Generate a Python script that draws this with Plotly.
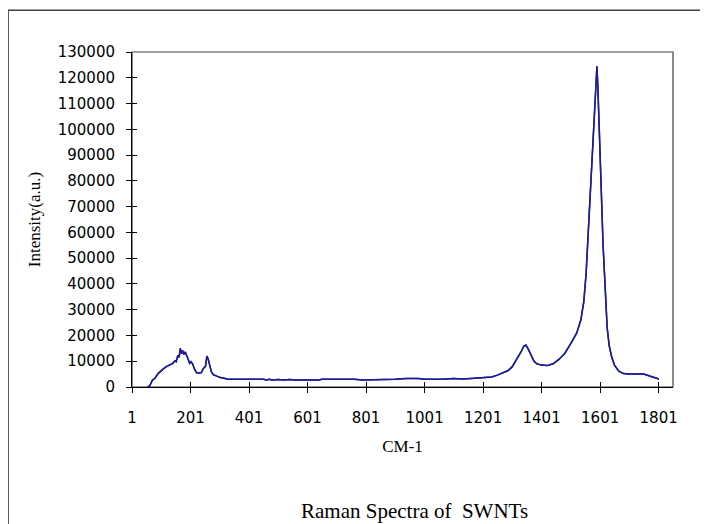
import plotly.graph_objects as go

# Raman shift (cm-1) and intensity (a.u.)
wavenumber = [55, 62, 70, 80, 90, 100, 110, 120, 130, 140, 148, 152, 158, 162, 166, 170, 174, 178,
              183, 188, 193, 198, 203, 208, 215, 222, 230, 238, 245, 252, 257, 261, 266, 272, 279,
              286, 293, 300, 310, 318, 330, 400, 450, 460, 470, 480, 500, 520, 540, 560, 600, 640,
              650, 700, 760, 790, 820, 840, 860, 900, 940, 980, 1000, 1060, 1100, 1130, 1160, 1200,
              1230, 1250, 1270, 1285, 1300, 1315, 1330, 1340, 1347, 1355, 1365, 1375, 1385, 1400,
              1420, 1440, 1460, 1480, 1500, 1521, 1535, 1545, 1553, 1559, 1564, 1571, 1578, 1584,
              1587, 1590, 1593, 1596, 1599, 1603, 1607, 1611, 1615, 1620, 1625, 1632, 1641, 1650,
              1664, 1680, 1700, 1730, 1750, 1770, 1790, 1802]
intensity = [0, 500, 2500, 3500, 5200, 6300, 7200, 8000, 8600, 9200, 10200, 9800, 12300, 11500,
             15000, 13000, 14200, 12600, 13600, 11800, 10800, 9200, 9800, 9000, 6800, 5500, 5400,
             5600, 7200, 8000, 12000, 11000, 8500, 6000, 4800, 4300, 4100, 3800, 3600, 3300, 3000,
             3000, 3000, 2700, 3000, 2700, 2900, 2700, 2900, 2700, 2700, 2700, 3000, 3000, 3000,
             2700, 2800, 2600, 2800, 3000, 3300, 3300, 3000, 3000, 3300, 3100, 3300, 3500, 3900,
             4600, 5400, 6300, 7800, 10500, 13500, 15800, 16300, 14800, 12200, 10000, 9000, 8500,
             8300, 9000, 10700, 13000, 16700, 21000, 26000, 33000, 44000, 57000, 69800, 83000,
             95700, 110000, 117000, 124500, 117000, 108000, 100000, 85000, 69000, 55000, 44000,
             32000, 23000, 16000, 11400, 8500, 6200, 5200, 5000, 5000, 5000, 4300, 3400, 3100]

x_ticks = [1, 201, 401, 601, 801, 1001, 1201, 1401, 1601, 1801]
y_ticks = list(range(0, 130001, 10000))

tick_font = dict(family="DejaVu Sans", size=15, color="#000000")
serif = "Liberation Serif"

fig = go.Figure()
fig.add_trace(go.Scatter(x=wavenumber, y=intensity, mode="lines",
                         line=dict(color="#1c1c96", width=1.5), showlegend=False))
# same data on overlay axes, used only to draw the inner half of the crossing ticks
fig.add_trace(go.Scatter(x=wavenumber, y=intensity, mode="lines", xaxis="x2", yaxis="y2",
                         line=dict(color="#1c1c96", width=1.5), showlegend=False,
                         hoverinfo="skip"))

common_x = dict(range=[1, 1850], tickvals=x_ticks, showgrid=False, zeroline=False)
common_y = dict(range=[0, 130000], tickvals=y_ticks, showgrid=False, zeroline=False)

fig.update_layout(
    width=700, height=516,
    margin=dict(l=124, r=35, t=44, b=137),
    paper_bgcolor="white", plot_bgcolor="white",
    xaxis=dict(**common_x, ticks="outside", ticklen=5, tickwidth=1, tickcolor="#000",
               showline=True, linecolor="#000", linewidth=1, mirror=False,
               tickfont=tick_font, ticklabelstandoff=12,
               title=dict(text="CM-1", font=dict(family=serif, size=17, color="#000"),
                          standoff=14)),
    yaxis=dict(**common_y, ticks="outside", ticklen=5, tickwidth=1, tickcolor="#000",
               showline=True, linecolor="#000", linewidth=1, mirror=False,
               tickfont=tick_font, tickformat="d", ticklabelstandoff=8,
               title=dict(text="Intensity(a.u.)", font=dict(family=serif, size=17, color="#000"),
                          standoff=12)),
    xaxis2=dict(**common_x, overlaying="x", ticks="inside", ticklen=5, tickwidth=1,
                tickcolor="#000", showticklabels=False, showline=False),
    yaxis2=dict(**common_y, overlaying="y", ticks="inside", ticklen=5, tickwidth=1,
                tickcolor="#000", showticklabels=False, showline=False),
    shapes=[
        # plot-area frame (top and right)
        dict(type="rect", xref="paper", yref="paper", x0=0, y0=0, x1=1, y1=1,
             line=dict(color="#404040", width=1.2), layer="below"),
        # outer chart border
        dict(type="rect", xref="paper", yref="paper", x0=-0.229, y0=-0.7, x1=1.3, y1=1.125,
             line=dict(color="#404040", width=1.5), layer="below"),
    ],
    annotations=[
        dict(text="Raman Spectra of  SWNTs", xref="paper", yref="paper", x=0.523, y=-0.37,
             showarrow=False, xanchor="center", yanchor="middle",
             font=dict(family=serif, size=21, color="#000")),
    ],
)

fig.write_html("out.html")
